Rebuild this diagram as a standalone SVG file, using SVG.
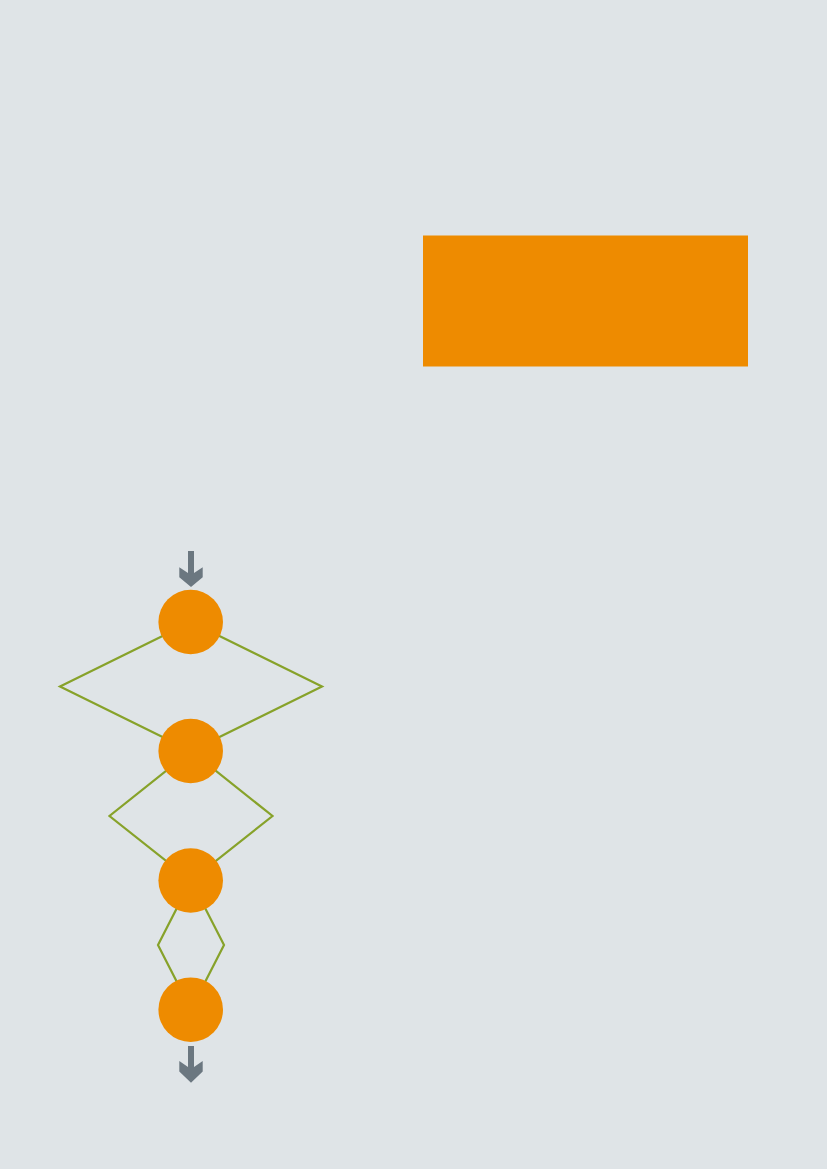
<svg xmlns="http://www.w3.org/2000/svg" width="827" height="1169" viewBox="0 0 827 1169">
  <defs>
    <style>
      .bg { fill: #dfe4e7; }
      .box { fill: #ee8b00; }
      .node { fill: #ee8b00; }
      .edge { fill: none; stroke: #87a22a; stroke-width: 2.2; stroke-linejoin: miter; }
      .arrow { fill: #6b7780; }
    </style>
  </defs>
  <rect class="bg" x="0" y="0" width="827" height="1169"/>
  <g id="box">
    <rect class="box" x="423" y="235.5" width="325" height="131"/>
  </g>
  <g id="connectors">
    <polygon class="edge" points="191,622 322,686.5 191,751 60,686.5"/>
    <polygon class="edge" points="191,751 272.5,816 191,880.5 109.5,816"/>
    <polygon class="edge" points="191,880.5 224,945 191,1009.5 158,945"/>
    <polygon id="arrow-in" class="arrow" points="188,551 194,551 194,573 202.7,567.3 202.7,577.3 191,587 179.3,577.3 179.3,567.3 188,573"/>
    <polygon id="arrow-out" class="arrow" points="188,1046 194,1046 194,1067 202.7,1061 202.7,1071.5 191,1082.7 179.3,1071.5 179.3,1061 188,1067"/>
  </g>
  <g id="node1"><circle class="node" cx="190.7" cy="622" r="32.3"/></g>
  <g id="node2"><circle class="node" cx="190.7" cy="751" r="32.3"/></g>
  <g id="node3"><circle class="node" cx="190.7" cy="880.5" r="32.3"/></g>
  <g id="node4"><circle class="node" cx="190.7" cy="1009.7" r="32.3"/></g>
</svg>
